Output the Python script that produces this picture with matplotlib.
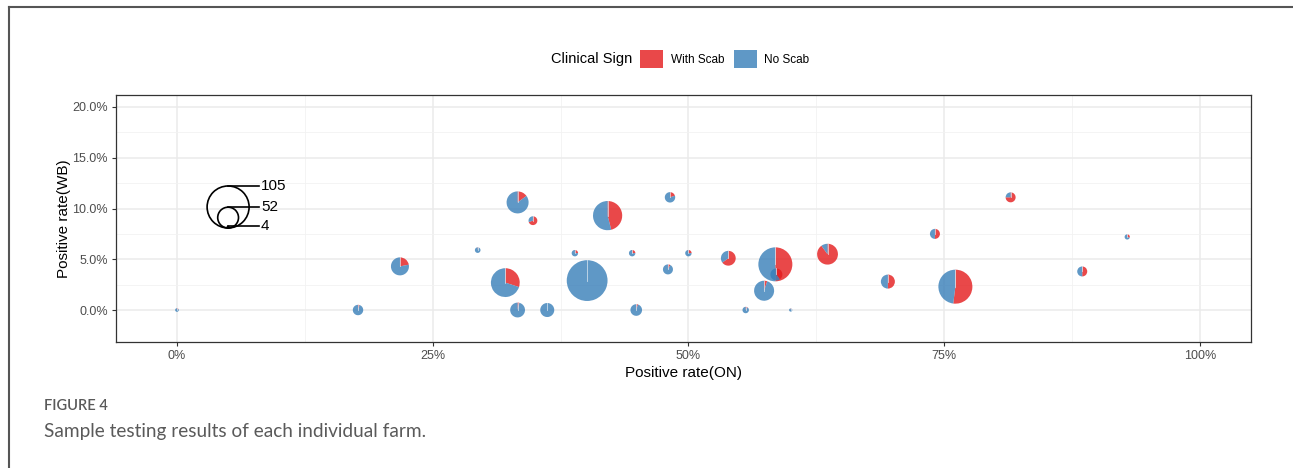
import numpy as np
import matplotlib.pyplot as plt
from matplotlib.patches import Wedge, Circle, Patch
from matplotlib.transforms import ScaledTranslation
from matplotlib.lines import Line2D

plt.rcParams['font.family'] = ['Liberation Sans', 'DejaVu Sans']

# farm data: positive rate (ON), positive rate (WB), sample size, share with scab
pos_on = [0.000, 0.177, 0.218, 0.333, 0.348, 0.294, 0.321, 0.333, 0.362, 0.389,
          0.421, 0.401, 0.445, 0.449, 0.482, 0.480, 0.500, 0.539, 0.585, 0.586,
          0.574, 0.556, 0.600, 0.636, 0.695, 0.761, 0.741, 0.815, 0.885, 0.929]
pos_wb = [0.000, 0.000, 0.043, 0.106, 0.088, 0.059, 0.027, 0.000, 0.000, 0.056,
          0.093, 0.029, 0.056, 0.000, 0.111, 0.040, 0.056, 0.051, 0.045, 0.035,
          0.019, 0.000, 0.000, 0.055, 0.028, 0.023, 0.075, 0.111, 0.038, 0.072]
n_total = [9, 26, 45, 55, 22, 14, 72, 37, 35, 16,
           73, 102, 16, 29, 26, 25, 16, 37, 85, 30,
           50, 16, 8, 52, 35, 85, 25, 25, 25, 13]
scab_share = [0.15, 0.05, 0.22, 0.15, 0.70, 0.05, 0.30, 0.04, 0.00, 0.25,
              0.46, 0.00, 0.25, 0.05, 0.20, 0.08, 0.25, 0.65, 0.50, 0.40,
              0.05, 0.10, 0.10, 0.90, 0.50, 0.52, 0.50, 0.75, 0.50, 0.30]

legend_sizes = [105, 52, 4]
sign_labels = ['With Scab', 'No Scab']
sign_colors = ['#E41A1C', '#377EB8']
alpha = 0.8
r_per_n = 0.002  # pie radius in inches per sample

W, H = 1293, 468
fig = plt.figure(figsize=(W / 100, H / 100), dpi=100)
ax = fig.add_axes([116 / W, 1 - 342 / H, (1251 - 116) / W, (342 - 95) / H])

ax.set_xlim(-0.0596, 1.050)
ax.set_ylim(-0.0315, 0.2118)
ax.set_xticks([0, 0.25, 0.5, 0.75, 1.0])
ax.set_xticklabels(['0%', '25%', '50%', '75%', '100%'])
ax.set_yticks([0, 0.05, 0.10, 0.15, 0.20])
ax.set_yticklabels(['0.0%', '5.0%', '10.0%', '15.0%', '20.0%'])
ax.set_xticks([0.125, 0.375, 0.625, 0.875], minor=True)
ax.set_yticks([0.025, 0.075, 0.125, 0.175], minor=True)
ax.grid(True, which='major', color='#EBEBEB', lw=1.1)
ax.grid(True, which='minor', color='#F2F2F2', lw=0.6)
ax.set_axisbelow(True)
ax.tick_params(which='major', length=3, width=0.8, color='#333333',
               labelcolor='#4D4D4D', labelsize=9, pad=3)
ax.tick_params(which='minor', length=0)
for s in ax.spines.values():
    s.set_color('#333333')
    s.set_linewidth(0.9)
ax.set_xlabel('Positive rate(ON)', fontsize=11, labelpad=3)
ax.set_ylabel('Positive rate(WB)', fontsize=11, labelpad=1)

# scatter pies
for x, y, n, f in zip(pos_on, pos_wb, n_total, scab_share):
    tr = fig.dpi_scale_trans + ScaledTranslation(x, y, ax.transData)
    r = n * r_per_n
    if f > 0:
        ax.add_patch(Wedge((0, 0), r, 90 - 360 * f, 90, transform=tr,
                           facecolor=sign_colors[0], alpha=alpha, lw=0))
    if f < 1:
        ax.add_patch(Wedge((0, 0), r, 90, 450 - 360 * f, transform=tr,
                           facecolor=sign_colors[1], alpha=alpha, lw=0))
    ax.add_line(Line2D([0, 0], [0, r], transform=tr, color='#E3ECF4', lw=0.6, alpha=0.8))

# size legend
lx, ly = 0.05, 0.0808
tr = fig.dpi_scale_trans + ScaledTranslation(lx, ly, ax.transData)
for n in legend_sizes:
    r = n * r_per_n
    ax.add_patch(Circle((0, r), r, transform=tr, fill=False, ec='black', lw=1.2))
    ax.add_line(Line2D([0, 0.31], [2 * r, 2 * r], transform=tr, color='black', lw=1.2))
    ax.text(0.33, 2 * r, str(n), transform=tr, fontsize=11, va='center', ha='left')

# colour legend
fig.text(551 / W, 1 - 59 / H, 'Clinical Sign', fontsize=10.5, va='center', ha='left')
handles = [Patch(facecolor=c, alpha=alpha, lw=0) for c in sign_colors]
fig.legend(handles, sign_labels, loc='center left', bbox_to_anchor=(640 / W, 1 - 59 / H),
           ncol=2, frameon=False, fontsize=8.5, handlelength=1.95, handleheight=1.95,
           handletextpad=0.65, columnspacing=0.8, borderpad=0, borderaxespad=0)

# page frame and caption
fig.add_artist(Line2D([9 / W, 1], [1 - 7 / H, 1 - 7 / H], transform=fig.transFigure,
                      color='#555555', lw=1.5))
fig.add_artist(Line2D([9 / W, 9 / W], [0, 1 - 7 / H], transform=fig.transFigure,
                      color='#555555', lw=1.5))
fig.text(44 / W, 1 - 406 / H, 'FIGURE 4', fontsize=10.5, color='#5A5A5A',
         family=['Lato', 'DejaVu Sans'], fontweight='semibold', va='center')
fig.text(44 / W, 1 - 432 / H, 'Sample testing results of each individual farm.', fontsize=13.7,
         color='#5A5A5A', family=['Lato', 'DejaVu Sans'], va='center')

fig.savefig('out.png', dpi=100)
